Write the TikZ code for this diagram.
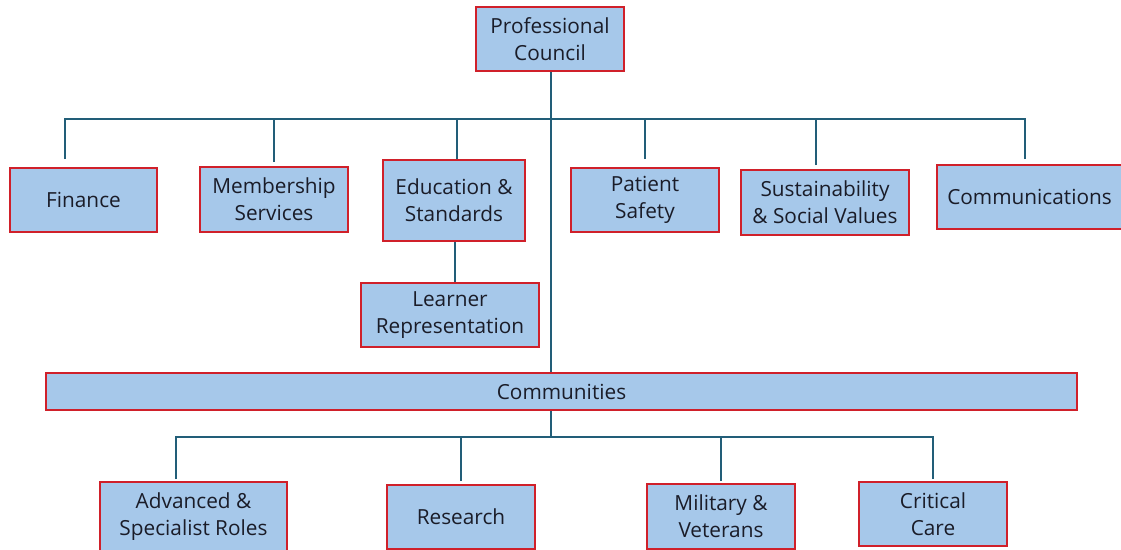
\documentclass[tikz,border=0pt]{standalone}
\usepackage{fontspec}
\setmainfont{Open Sans}
\definecolor{boxfill}{RGB}{166,200,234}
\definecolor{boxline}{RGB}{208,32,42}
\definecolor{connline}{RGB}{34,94,120}
\definecolor{txt}{RGB}{26,28,40}
\tikzset{
  orgbox/.style={draw=boxline, line width=2pt, fill=boxfill, inner sep=0pt,
    align=center, text=txt, font=\fontsize{20.8}{27}\selectfont},
  conn/.style={draw=connline, line width=2pt}
}
\begin{document}
\begin{tikzpicture}[x=1pt,y=-1pt]
\useasboundingbox (0,0) rectangle (1121,549);
% boxes
\node[orgbox, minimum width=148, minimum height=64] (pc) at (550,39) {Professional\\Council};
\node[orgbox, minimum width=147, minimum height=64] (fin) at (83.5,200) {Finance};
\node[orgbox, minimum width=148, minimum height=65] (mem) at (274,199.5) {Membership\\Services};
\node[orgbox, minimum width=142, minimum height=81] (edu) at (454,200.5) {Education \&\\Standards};
\node[orgbox, minimum width=148, minimum height=64] (pat) at (645,200) {Patient\\Safety};
\node[orgbox, minimum width=168, minimum height=65] (sus) at (825,202.5) {Sustainability\\\& Social Values};
\node[orgbox, minimum width=185, minimum height=64] (com) at (1029.5,197) {Communications};
\node[orgbox, minimum width=178, minimum height=64] (lea) at (450,315) {Learner\\Representation};
\node[orgbox, minimum width=1031, minimum height=37] (comm) at (561.5,391.5) {Communities};
\node[orgbox, minimum width=187, minimum height=70] (adv) at (193.5,517) {Advanced \&\\Specialist Roles};
\node[orgbox, minimum width=148, minimum height=64] (res) at (461,517) {Research};
\node[orgbox, minimum width=148, minimum height=65] (mil) at (721,516.5) {Military \&\\Veterans};
\node[orgbox, minimum width=148, minimum height=64] (crit) at (933,514) {Critical\\Care};
% bus coordinates
\coordinate (bus) at (551,119);
\coordinate (bus2) at (551,437);
% top connectors
\draw[conn] (pc.south -| bus) -- (bus |- comm.north);
\draw[conn] ([xshift=-18.5pt,yshift=8pt]fin.north) |- (bus);
\draw[conn] ([xshift=-4.5pt,yshift=5pt]com.north) |- (bus);
\draw[conn] ([yshift=4pt]mem.north) -- (mem.north |- bus);
\draw[conn] ([xshift=3pt]edu.north) -- ([xshift=3pt]edu.north |- bus);
\draw[conn] ([yshift=8pt]pat.north) -- (pat.north |- bus);
\draw[conn] ([xshift=-9pt,yshift=4pt]sus.north) -- ([xshift=-9pt]sus.north |- bus);
\draw[conn] ([xshift=1pt]edu.south) -- ([xshift=5pt]lea.north);
% bottom connectors
\draw[conn] (comm.south -| bus2) -- (bus2);
\draw[conn] ([xshift=-17.5pt,yshift=2pt]adv.north) |- (bus2);
\draw[conn] ([yshift=2pt]crit.north) |- (bus2);
\draw[conn] ([yshift=3pt]res.north) -- (res.north |- bus2);
\draw[conn] ([yshift=2pt]mil.north) -- (mil.north |- bus2);
\end{tikzpicture}
\end{document}
